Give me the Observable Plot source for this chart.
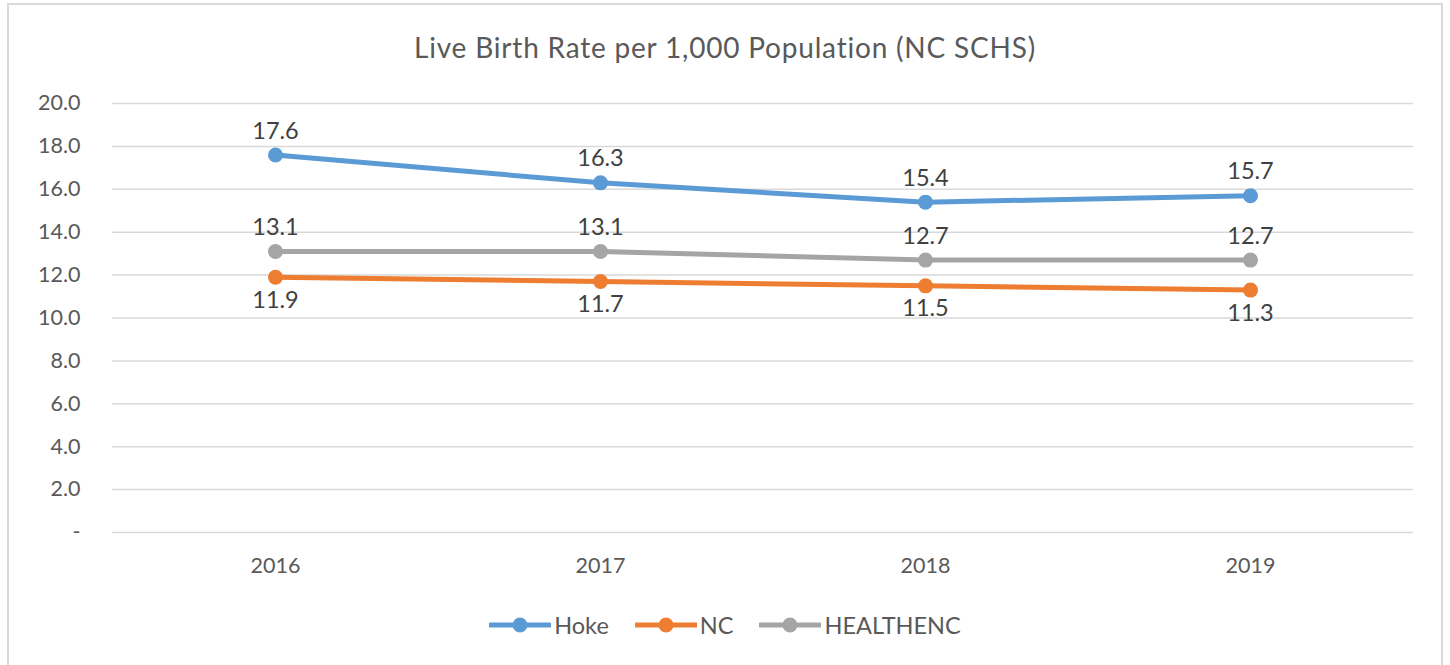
<!DOCTYPE html>
<html>
<head>
<meta charset="utf-8">
<script src="https://cdn.jsdelivr.net/npm/d3@7"></script>
<script src="https://cdn.jsdelivr.net/npm/@observablehq/plot@0.6"></script>
<style>
  body { margin: 0; background: #fff; font-family: Lato, "Open Sans", sans-serif; }
  #frame { position: absolute; left: 7px; top: 3px; width: 1436px; height: 700px; border: 2px solid #d9d9d9; box-sizing: border-box; }
  #title { position: absolute; left: 0; top: 30px; width: 1450px; text-align: center; font-size: 28px; letter-spacing: 0.8px; color: #595959; }
  #chart { position: absolute; left: 0; top: 0; }
  #legend { position: absolute; left: 0; top: 611px; width: 1450px; display: flex; justify-content: center; gap: 26px; font-size: 23.5px; color: #595959; }
  .item { display: flex; align-items: center; gap: 3px; }
</style>
</head>
<body>
<div id="frame"></div>
<div id="title">Live Birth Rate per 1,000 Population (NC SCHS)</div>
<div id="chart"></div>
<div id="legend"></div>
<script>
const years = ["2016", "2017", "2018", "2019"];
const seriesNames = ["Hoke", "NC", "HEALTHENC"];
const hoke = [17.6, 16.3, 15.4, 15.7];
const nc = [11.9, 11.7, 11.5, 11.3];
const healthenc = [13.1, 13.1, 12.7, 12.7];
const colors = ["#5B9BD5", "#ED7D31", "#A5A5A5"];
const yTicks = [0, 2, 4, 6, 8, 10, 12, 14, 16, 18, 20];

const valuesBySeries = [hoke, nc, healthenc];
const data = [];
seriesNames.forEach((s, i) => years.forEach((y, j) => data.push({series: s, year: y, value: valuesBySeries[i][j]})));

const above = data.filter(d => d.series !== "NC");
const below = data.filter(d => d.series === "NC");
const fmt = d => d === 0 ? "-" : d3.format(".1f")(d);

const chart = Plot.plot({
  width: 1450,
  height: 600,
  marginLeft: 112,
  marginRight: 37,
  marginTop: 103,
  marginBottom: 68,
  style: {fontFamily: "Lato, 'Open Sans', sans-serif", fontSize: "21.5px", color: "#595959", background: "transparent"},
  x: {type: "point", domain: years, padding: 0.5, label: null},
  y: {domain: [0, 20], label: null},
  color: {domain: seriesNames, range: colors},
  marks: [
    Plot.gridY(yTicks, {stroke: "#d9d9d9", strokeOpacity: 1, strokeWidth: 1.5}),
    Plot.axisY(yTicks, {tickSize: 0, tickPadding: 32, fontSize: 21.5, fill: "#595959", tickFormat: fmt, label: null}),
    Plot.axisX({tickSize: 0, tickPadding: 25, fontSize: 21.5, fill: "#595959", label: null}),
    Plot.line(data, {x: "year", y: "value", z: "series", stroke: "series", strokeWidth: 5}),
    Plot.dot(data, {x: "year", y: "value", fill: "series", r: 7.5}),
    Plot.text(above, {x: "year", y: "value", text: d => d.value.toFixed(1), dy: -24, fontSize: 23.5, fill: "#404040"}),
    Plot.text(below, {x: "year", y: "value", text: d => d.value.toFixed(1), dy: 23, fontSize: 23.5, fill: "#404040"})
  ]
});
document.getElementById("chart").appendChild(chart);

const legend = document.getElementById("legend");
seriesNames.forEach((s, i) => {
  const item = document.createElement("div");
  item.className = "item";
  item.innerHTML = `<svg width="62" height="20"><line x1="1" y1="10" x2="61" y2="10" stroke="${colors[i]}" stroke-width="5" stroke-linecap="round"/><circle cx="31" cy="10" r="7.5" fill="${colors[i]}"/></svg><span>${s}</span>`;
  legend.appendChild(item);
});
</script>
</body>
</html>
